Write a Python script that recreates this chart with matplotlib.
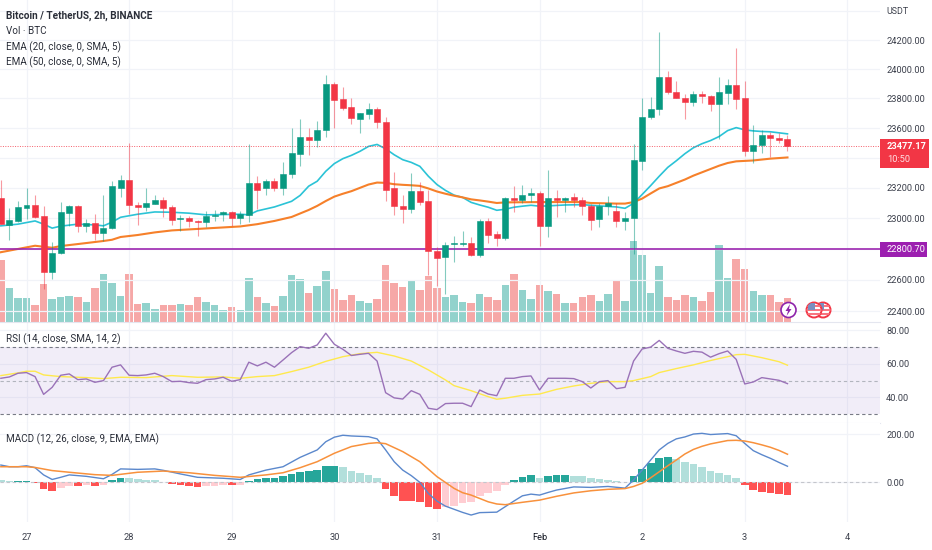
#!/usr/bin/env python3
# BTC/USDT 2h chart with volume, two EMAs, RSI and MACD panes
import matplotlib
matplotlib.use("Agg")
import matplotlib.pyplot as plt
from matplotlib.patches import Circle, Polygon, Rectangle
from matplotlib.ticker import NullLocator

plt.rcParams["font.family"] = ["Roboto", "DejaVu Sans"]

W, H = 932, 550
UP, DOWN = "#089981", "#f23645"
TEXT = "#3c404c"
GRID = "#f1f3f8"
SCALE_FONT = 6.7

# bar index 0 is 27 Jan 00:00, 12 bars per day
first_bar = -3
opens = [23131, 22955, 22981, 23066, 23086, 23014, 22652, 22774, 23034, 23080, 22949, 22968, 22904, 22936, 23203,
         23256, 23086, 23073, 23092, 23118, 23073, 22994, 23001, 22981, 22975, 23014, 23027, 23040, 23001, 23020,
         23236, 23197, 23249, 23203, 23295, 23428, 23541, 23521, 23588, 23899, 23797, 23742, 23662, 23695, 23729,
         23642, 23197, 23080, 23060, 23177, 23112, 22787, 22749, 22832, 22832, 22839, 22761, 22981, 22897, 22871,
         23131, 23118, 23151, 23164, 22949, 23131, 23118, 23138, 23118, 23080, 22994, 23080, 23047, 22981, 23001,
         23381, 23675, 23729, 23946, 23845, 23804, 23777, 23831, 23818, 23763, 23838, 23892, 23804, 23448, 23488,
         23555, 23535, 23528]
highs = [23256, 23066, 23112, 23203, 23157, 23080, 22845, 23105, 23086, 23086, 22994, 23027, 23151, 23249, 23289,
         23501, 23105, 23197, 23151, 23138, 23086, 23020, 23014, 22988, 23047, 23053, 23047, 23047, 23047, 23495,
         23282, 23262, 23269, 23375, 23601, 23662, 23601, 23648, 23960, 23912, 23878, 23804, 23702, 23770, 23742,
         23675, 23309, 23157, 23302, 23243, 23184, 22813, 22845, 22884, 22917, 22878, 22994, 23001, 22917, 23138,
         23210, 23223, 23197, 23177, 23322, 23190, 23138, 23170, 23138, 23092, 23099, 23144, 23099, 23040, 23495,
         23804, 23811, 24255, 23987, 23919, 23831, 23851, 23851, 23824, 23946, 23933, 24145, 23919, 23621, 23588,
         23575, 23568, 23555]
lows = [22962, 22858, 22975, 22994, 23000, 22543, 22607, 22770, 22949, 22910, 22910, 22858, 22852, 22930, 23138,
        23027, 22955, 23047, 23092, 23007, 22955, 22917, 22943, 22885, 22943, 22981, 22981, 22949, 22962, 22975,
        23060, 23151, 23177, 23157, 23269, 23348, 23421, 23475, 23541, 23601, 23722, 23628, 23568, 23662, 23601,
        23112, 23020, 22968, 23034, 23086, 22633, 22562, 22511, 22716, 22819, 22755, 22749, 22839, 22819, 22858,
        23040, 23099, 23105, 22819, 22878, 23007, 23040, 23073, 23020, 22923, 22943, 23020, 22943, 22923, 22768,
        23322, 23662, 23688, 23831, 23804, 23662, 23750, 23770, 23716, 23528, 23763, 23729, 23415, 23368, 23435,
        23408, 23501, 23448]
closes = [22962, 22988, 23073, 23086, 23007, 22652, 22774, 23040, 23080, 22949, 22968, 22904, 22936, 23210, 23256,
          23086, 23073, 23099, 23118, 23066, 22988, 23001, 22981, 22975, 23014, 23020, 23040, 23001, 23027, 23236,
          23190, 23249, 23203, 23295, 23435, 23541, 23521, 23588, 23899, 23790, 23736, 23668, 23702, 23729, 23642,
          23190, 23080, 23060, 23177, 23105, 22787, 22742, 22826, 22839, 22839, 22761, 22981, 22891, 22871, 23131,
          23118, 23151, 23164, 22949, 23131, 23118, 23131, 23118, 23080, 22988, 23080, 23099, 22981, 23001, 23388,
          23675, 23729, 23946, 23845, 23804, 23777, 23831, 23818, 23763, 23845, 23892, 23797, 23448, 23488, 23555,
          23535, 23521, 23477]
volumes = [62, 34, 24, 24, 17, 38, 23, 25, 26, 25, 20, 34, 48, 39, 26, 48, 18, 19, 13, 17, 17, 18, 17, 25, 20, 17,
           12, 15, 12, 44, 25, 19, 16, 26, 47, 43, 29, 36, 51, 33, 22, 27, 21, 19, 23, 57, 39, 35, 42, 32, 46, 34,
           25, 27, 20, 19, 28, 25, 22, 37, 48, 32, 23, 37, 31, 28, 19, 19, 25, 27, 21, 28, 42, 21, 81, 67, 29, 56,
           25, 22, 27, 25, 21, 30, 77, 44, 63, 53, 31, 27, 27, 20, 24]

ema20_x = [-3, -1, 1, 2, 3, 4, 6, 8, 9, 10, 11, 13, 15, 17, 19, 21, 25, 26, 27, 29, 31, 32, 33, 34, 35, 36, 37, 38,
           39, 40, 41, 42, 43, 44, 45, 46, 47, 48, 49, 50, 51, 52, 53, 54, 55, 56, 57, 58, 59, 60, 61, 63, 65, 67,
           69, 70, 71, 72, 73, 74, 75, 76, 77, 78, 79, 80, 81, 82, 83, 84, 85, 86, 87, 88, 89]
ema20 = [22951, 22962, 22983, 22962, 22936, 22949, 22962, 22957, 22951, 22975, 23007, 23027, 23042, 23040, 23034,
         23023, 23027, 23023, 23049, 23075, 23112, 23151, 23212, 23245, 23311, 23362, 23395, 23417, 23444, 23477,
         23490, 23461, 23421, 23388, 23370, 23344, 23278, 23223, 23184, 23153, 23138, 23105, 23088, 23073, 23053,
         23060, 23073, 23080, 23086, 23080, 23082, 23088, 23090, 23082, 23075, 23066, 23099, 23157, 23216, 23278,
         23337, 23381, 23428, 23468, 23495, 23516, 23543, 23583, 23603, 23588, 23581, 23577, 23575, 23568, 23561]

ema50_x = [-3, -1, 1, 3, 4, 6, 9, 10, 11, 13, 15, 17, 21, 25, 27, 29, 31, 33, 34, 35, 36, 37, 38, 39, 40, 41, 42, 43,
           44, 45, 46, 47, 48, 49, 50, 51, 52, 53, 54, 55, 56, 60, 65, 66, 69, 70, 71, 72, 73, 74, 75, 76, 77, 78,
           79, 80, 81, 82, 83, 85, 87, 89]
ema50 = [22779, 22800, 22821, 22808, 22819, 22832, 22852, 22860, 22878, 22891, 22908, 22921, 22934, 22947, 22962,
         22983, 23009, 23055, 23082, 23114, 23143, 23162, 23179, 23201, 23223, 23236, 23234, 23225, 23221, 23218,
         23214, 23197, 23177, 23162, 23149, 23138, 23125, 23118, 23110, 23101, 23105, 23107, 23107, 23101, 23097,
         23097, 23107, 23130, 23164, 23197, 23212, 23234, 23256, 23282, 23304, 23326, 23348, 23366, 23377, 23383,
         23395, 23403]

rsi = [51.4, 52.2, 54.4, 54.8, 52.4, 41.8, 46, 53.2, 54, 50.6, 51, 49, 50, 58, 59.4, 53.2, 53, 53.4, 54.4, 52.4, 49.4,
       49.6, 48.8, 48.4, 50.6, 51, 52, 49.6, 50.6, 61, 58.8, 61, 58, 62.3, 66.7, 70.3, 69.3, 71.3, 78.3, 71.7, 68.7,
       65, 65.7, 66.3, 61.7, 42.8, 39.7, 39, 44, 41.8, 33.5, 32.7, 36.3, 36.5, 36.5, 34.5, 44.4, 42, 41, 51.4, 51.4,
       52.4, 52.8, 44.4, 51.4, 51.4, 51.4, 51.2, 49.4, 45.6, 49.4, 50, 45.2, 46, 61.7, 68.9, 70, 74, 69.3, 67.7, 66.3,
       67.5, 67, 64, 66.1, 67.7, 62.7, 48, 49.2, 51.8, 51, 50.2, 48.2]
rsi_ma_x = [-3, -1, 0, 1, 2, 4, 7, 9, 11, 14, 17, 20, 23, 25, 27, 29, 31, 33, 35, 37, 39, 41, 43, 45, 47, 49, 50, 52,
            53, 54, 55, 56, 58, 60, 62, 64, 66, 68, 70, 71, 73, 74, 76, 78, 80, 82, 83, 84, 86, 88, 89]
rsi_ma = [53, 54.6, 55.6, 55.6, 53.4, 52.4, 51.8, 51.2, 52, 51.8, 53, 52, 52.2, 51.4, 52.4, 53, 55.4, 58, 61.5, 64.3,
          66.1, 66.9, 64.7, 61.7, 56.4, 50.4, 47, 44, 42.2, 40.4, 38.9, 39.5, 41.2, 42, 44.8, 46.8, 48.4, 49.4, 49.4,
          50, 52.4, 54.8, 57.2, 59.4, 62, 64.3, 65.5, 65.7, 63.7, 61.3, 59.2]

macd_hist = [10, 4, 5, 5, -3, -29, -36, -24, -14, -14, -10, -14, -13, 8, 19, 17, 12, 10, 9, 3, -5, -10, -14, -18, -17,
             -14, -11, -12, -10, 5, 14, 19, 19, 26, 35, 44, 47, 51, 69, 69, 62, 49, 39, 29, 17, -26, -57, -79, -79, -82,
             -101, -110, -104, -99, -85, -81, -57, -44, -35, -10, 10, 22, 29, 19, 25, 29, 29, 28, 25, 17, 12, 11, 5, 3,
             26, 55, 79, 100, 104, 97, 85, 75, 62, 47, 39, 31, 19, -12, -32, -42, -46, -49, -51]
macd_x = [-3, -2, -1, 0, 1, 2, 3, 4, 5, 7, 9, 10, 11, 13, 15, 16, 18, 20, 23, 25, 26, 28, 30, 32, 34, 35, 36, 37, 38,
          40, 41, 42, 43, 44, 45, 46, 47, 48, 49, 50, 51, 52, 53, 55, 56, 57, 58, 59, 60, 61, 62, 64, 66, 68, 70, 71,
          72, 73, 74, 75, 76, 77, 78, 79, 80, 81, 82, 83, 84, 85, 86, 87, 88, 89]
macd_line = [72, 65, 65, 69, 61, 31, 12, 21, 31, 25, 15, 33, 56, 54, 56, 50, 35, 21, 17, 12, 31, 51, 65, 104, 135, 169,
             188, 196, 193, 190, 181, 135, 86, 51, 28, 0, -46, -78, -99, -112, -125, -136, -126, -124, -101, -78, -56,
             -49, -53, -42, -32, -19, -21, -17, -24, 10, 51, 93, 135, 162, 181, 189, 201, 204, 199, 201, 203, 194, 162,
             132, 115, 100, 83, 67]
signal_x = [-3, 0, 1, 3, 5, 8, 10, 13, 16, 19, 22, 25, 28, 30, 32, 34, 36, 38, 40, 41, 42, 44, 46, 48, 50, 51, 52, 54,
            55, 56, 58, 60, 62, 64, 66, 68, 70, 71, 72, 73, 74, 75, 76, 77, 78, 79, 80, 81, 82, 83, 84, 85, 86, 87, 88,
            89]
signal_line = [65, 65, 62, 49, 42, 32, 29, 42, 47, 40, 29, 21, 31, 40, 61, 86, 121, 149, 162, 165, 161, 128, 86, 24,
               -25, -43, -53, -81, -90, -93, -83, -74, -58, -44, -35, -29, -26, -17, -4, 19, 44, 69, 93, 118, 137, 150,
               160, 167, 174, 175, 172, 165, 156, 146, 133, 117]

price_ticks = [22400, 22600, 22800, 23000, 23200, 23400, 23600, 23800, 24000, 24200, 24400]
price_labels = ["22400.00", "22600.00", "", "23000.00", "23200.00", "", "23600.00", "23800.00", "24000.00", "24200.00", ""]
day_ticks = [0, 12, 24, 36, 48, 60, 72, 84, 96]
day_labels = ["27", "28", "29", "30", "31", "Feb", "2", "3", "4"]
level_price = 22800.70
last_price = 23477.17

bars = list(range(first_bar, first_bar + len(closes)))


def rect(top, bottom):
    # axes rect from pixel rows of the reference
    return [0, 1 - bottom / H, 880 / W, (bottom - top) / H]


def fx(x):
    return x / W


def fy(y):
    return 1 - y / H


def style(ax):
    ax.set_xlim(-3.1, 99.82)
    ax.set_xticks(day_ticks)
    ax.grid(True, color=GRID, lw=0.9)
    ax.set_axisbelow(True)
    ax.yaxis.tick_right()
    ax.tick_params(length=0, labelsize=SCALE_FONT, labelcolor=TEXT, pad=4.5)
    ax.tick_params(axis="x", labelbottom=False)
    for name, sp in ax.spines.items():
        sp.set_visible(name == "bottom")
        sp.set_color("#e4e6ef")


fig = plt.figure(figsize=(W / 100, H / 100), dpi=100, facecolor="white")

# main pane, log price scale
ax = fig.add_axes(rect(0, 322))
ax.set_yscale("log")
ax.set_ylim(22330, 24478)
ax.set_yticks(price_ticks)
ax.set_yticklabels(price_labels)
ax.yaxis.set_minor_locator(NullLocator())

ax_vol = ax.twinx()
ax_vol.set_ylim(0, 322)
ax_vol.set_yticks([])
for sp in ax_vol.spines.values():
    sp.set_visible(False)
ax.set_zorder(ax_vol.get_zorder() + 1)
ax.patch.set_visible(False)
# twinx moves the host ticks to the left, style() puts them back
style(ax)

is_up = [c >= o for o, c in zip(opens, closes)]
ax_vol.bar(bars, volumes, width=0.88, color=["#26a69a" if u else "#ef5350" for u in is_up], alpha=0.5, lw=0)

ax.plot(ema20_x, ema20, color="#2bc3d6", lw=1.2, zorder=3)
ax.plot(ema50_x, ema50, color="#f6802a", lw=1.5, zorder=3)
ax.axhline(level_price, color="#9c27b0", lw=1.2, zorder=3)
ax.axhline(last_price, color=DOWN, lw=0.7, ls=(0, (1, 1.5)), alpha=0.8, zorder=3)

colors = [UP if u else DOWN for u in is_up]
ax.vlines(bars, lows, highs, colors=colors, lw=0.8, alpha=0.5, zorder=4)
ax.bar(bars, [abs(c - o) for o, c in zip(opens, closes)], bottom=[min(o, c) for o, c in zip(opens, closes)],
       width=0.7, color=colors, edgecolor=colors, lw=0.4, zorder=5)
ax.set_ylim(22330, 24478)

# RSI pane
ax_rsi = fig.add_axes(rect(322, 423))
ax_rsi.set_ylim(24.7, 85)
ax_rsi.set_yticks([40, 60, 80])
ax_rsi.set_yticklabels(["40.00", "60.00", "80.00"])
style(ax_rsi)
ax_rsi.axhspan(30, 70, color="#7e57c2", alpha=0.1, lw=0)
for lvl in (30, 70):
    ax_rsi.axhline(lvl, color="#787b86", lw=0.8, ls=(0, (3, 2.5)))
ax_rsi.axhline(50, color="#b2b5be", lw=0.8, ls=(0, (3, 2.5)))
ax_rsi.plot(rsi_ma_x, rsi_ma, color="#ffe94d", lw=1.0)
ax_rsi.plot(bars, rsi, color="#9a72b8", lw=1.0)

# MACD pane
ax_macd = fig.add_axes(rect(423, 522))
ax_macd.set_ylim(-165, 247)
ax_macd.set_yticks([0, 200])
ax_macd.set_yticklabels(["0.00", "200.00"])
style(ax_macd)
ax_macd.axhline(0, color="#c4c6cc", lw=0.8, ls=(0, (3, 2.5)))
hist_colors = []
for i, v in enumerate(macd_hist):
    prev = macd_hist[i - 1] if i else v + 1
    if v >= 0:
        hist_colors.append("#26a69a" if v >= prev else "#b2dfdb")
    else:
        hist_colors.append("#ff5252" if v <= prev else "#ffcdd2")
ax_macd.bar(bars, macd_hist, width=0.9, color=hist_colors, lw=0)
ax_macd.plot(macd_x, macd_line, color="#5b88cc", lw=1.0)
ax_macd.plot(signal_x, signal_line, color="#f8913c", lw=1.1)
ax_macd.set_xticklabels(day_labels)
ax_macd.tick_params(axis="x", labelbottom=True, labelsize=SCALE_FONT, pad=8)
ax_macd.spines["bottom"].set_visible(False)
for lab in ax_macd.get_xticklabels():
    if lab.get_text() == "Feb":
        lab.set_color("#131722")

# legends
for y, txt, wt, fs in [(16, "Bitcoin / TetherUS, 2h, BINANCE", "bold", 7.2), (31, "Vol · BTC", "normal", 7.1),
                       (47, "EMA (20, close, 0, SMA, 5)", "normal", 7.1), (62, "EMA (50, close, 0, SMA, 5)", "normal", 7.1),
                       (339, "RSI (14, close, SMA, 14, 2)", "normal", 7.1),
                       (439, "MACD (12, 26, close, 9, EMA, EMA)", "normal", 7.1)]:
    fig.text(fx(6), fy(y), txt, fontsize=fs, color="#2a2e39", fontweight=wt, va="center", ha="left", zorder=20)

fig.text(fx(886), fy(12), "USDT", fontsize=6.4, color=TEXT, va="center", ha="left")

# price tags on the scale
fig.add_artist(Rectangle((fx(880), fy(168)), 49 / W, 29 / H, transform=fig.transFigure, color=DOWN, lw=0))
fig.text(fx(887), fy(146.5), f"{last_price:.2f}", fontsize=SCALE_FONT, color="white", fontweight="bold", va="center")
fig.text(fx(887), fy(160), "10:50", fontsize=SCALE_FONT, color="#ffe0e3", va="center")
fig.add_artist(Rectangle((fx(880), fy(257)), 47 / W, 15 / H, transform=fig.transFigure, color="#9c1fb0", lw=0))
fig.text(fx(887), fy(249.5), f"{level_price:.2f}", fontsize=SCALE_FONT, color="white", va="center")


# marker icons under the last bars
def circle(cx, cy, r, face, edge, lw=1.2):
    c = Circle((cx, H - cy), r, transform=overlay.transData, facecolor=face, edgecolor=edge, lw=lw)
    overlay.add_patch(c)
    return c


overlay = fig.add_axes([0, 0, 1, 1], zorder=10)
overlay.set_xlim(0, W)
overlay.set_ylim(0, H)
overlay.axis("off")
circle(788.5, 310, 7.5, "white", "#8e24aa")
overlay.add_patch(Polygon([(790, H - 304), (785.5, H - 311), (788, H - 311), (786.5, H - 316),
                           (791.5, H - 309), (789, H - 309)], color="#8e24aa", lw=0))
for cx in (823, 814):
    c = circle(cx, 310, 7.5, "white", "#f23645", lw=1.4)
    for sy in (306, 310, 314):
        stripe = Rectangle((cx - 8, H - sy - 1), 16, 2.2, color="#f8747f", lw=0)
        overlay.add_patch(stripe)
        stripe.set_clip_path(c)
    canton = Rectangle((cx - 6.5, H - 310), 7, 7, color="#7a8fc0", lw=0)
    overlay.add_patch(canton)
    canton.set_clip_path(c)

fig.savefig("out.png", dpi=100)
